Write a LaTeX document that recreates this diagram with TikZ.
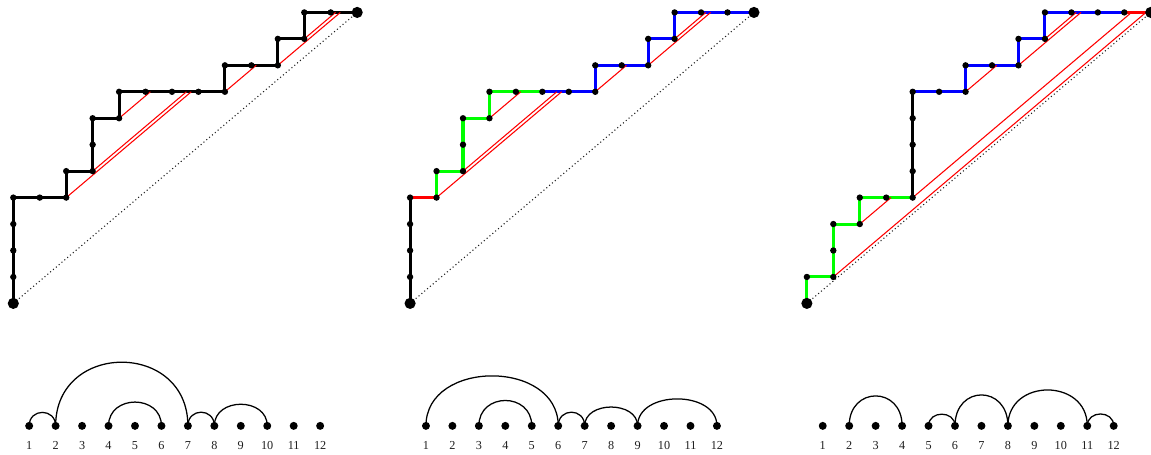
\documentclass[tikz,border=0pt]{standalone}
\usepackage{fontspec}
\setmainfont{Liberation Serif}
\usepackage{tikz}
\usetikzlibrary{
  positioning,
  calc
}
\definecolor{pathcolor}{RGB}{0, 0, 0}
\definecolor{steepcolor}{RGB}{0, 255, 0}
\definecolor{flatcolor}{RGB}{0, 0, 255}
\definecolor{bouncecolor}{RGB}{255, 0, 0}
\definecolor{diagcolor}{RGB}{30, 30, 30}
\definecolor{labelcolor}{RGB}{30, 30, 30}
\tikzset{
vertex/.style={
  circle,
  fill=pathcolor,
  inner sep=0pt,
  minimum size=4.8pt
},
endvertex/.style={
  vertex,
  minimum size=8.4pt
},
arcvertex/.style={
  vertex,
  minimum size=6pt
},
numlabel/.style={
  font=\fontsize{9.2}{10}\selectfont,
  text=labelcolor,
  inner sep=0pt
}
}

\begin{document}
\begin{tikzpicture}[
    x=0.7cm, y=0.7cm,
    % Estilos das linhas
    stepline/.style={line width=2.3pt, pathcolor, line join=round},
    steepline/.style={stepline, steepcolor},
    flatline/.style={stepline, flatcolor},
    firstline/.style={stepline, bouncecolor},
    redline/.style={line width=0.8pt, bouncecolor},
    diagline/.style={line width=0.8pt, diagcolor, dotted},
    arcline/.style={line width=0.95pt, pathcolor},
]
\useasboundingbox (-0.503,-5.73) rectangle (43.01,11.47);

% ============================================================================
% CAMINHO 1
% ============================================================================
\begin{scope}[shift={(0, 0)}]
    \foreach \x/\y [count=\i from 0] in {0/0,0/1,0/2,0/3,0/4,1/4,2/4,2/5,3/5,3/6,3/7,4/7,4/8,5/8,6/8,7/8,8/8,8/9,9/9,10/9,10/10,11/10,11/11,12/11,13/11}
        \coordinate (a\i) at (\x,\y);
    \coordinate (ar1) at ({2+4*13/11}, 8);
    \coordinate (ar2) at ({3+3*13/11}, 8);
    \coordinate (ar3) at ({4+13/11}, 8);
    \coordinate (ar4) at ({8+13/11}, 9);
    \coordinate (ar5) at ({10+2*13/11}, 11);
    \coordinate (ar6) at ({11+13/11}, 11);

    \draw[diagline] (a0) -- (a24);
    \draw[stepline] (a0) \foreach \i in {1,...,24} {-- (a\i)};
    \draw[redline] (a6) -- (ar1);
    \draw[redline] (a8) -- (ar2);
    \draw[redline] (a11) -- (ar3);
    \draw[redline] (a16) -- (ar4);
    \draw[redline] (a19) -- (ar5);
    \draw[redline] (a21) -- (ar6);

    \foreach \i in {1,...,23}
        \node[vertex] (va\i) at (a\i) {};
    \node[endvertex] (va0) at (a0) {};
    \node[endvertex] (va24) at (a24) {};

    \foreach \i in {1,...,12} {
        \node[arcvertex] (da\i) at ({\i-0.4}, -4.63) {};
        \node[numlabel] (la\i) at ({\i-0.4}, -5.37) {\i};
    }
    \draw[arcline] (da1.center) .. controls +(0,0.68) and +(0,0.68) .. (da2.center);
    \draw[arcline] (da2.center) .. controls +(0,3.21) and +(0,3.21) .. (da7.center);
    \draw[arcline] (da4.center) .. controls +(0,1.20) and +(0,1.20) .. (da6.center);
    \draw[arcline] (da7.center) .. controls +(0,0.69) and +(0,0.69) .. (da8.center);
    \draw[arcline] (da8.center) .. controls +(0,1.09) and +(0,1.09) .. (da10.center);
\end{scope}

% ============================================================================
% CAMINHO 2
% ============================================================================
\begin{scope}[shift={(15, 0)}]
    \foreach \x/\y [count=\i from 0] in {0/0,0/1,0/2,0/3,0/4,1/4,1/5,2/5,2/6,2/7,3/7,3/8,4/8,5/8,6/8,7/8,7/9,8/9,9/9,9/10,10/10,10/11,11/11,12/11,13/11}
        \coordinate (b\i) at (\x,\y);
    \coordinate (br1) at ({1+4*13/11}, 8);
    \coordinate (br2) at ({2+3*13/11}, 8);
    \coordinate (br3) at ({3+13/11}, 8);
    \coordinate (br4) at ({7+13/11}, 9);
    \coordinate (br5) at ({9+2*13/11}, 11);
    \coordinate (br6) at ({10+13/11}, 11);

    \draw[diagline] (b0) -- (b24);
    \draw[stepline] (b0) \foreach \i in {1,...,4} {-- (b\i)};
    \draw[firstline] (b4) -- (b5);
    \draw[steepline] (b5) \foreach \i in {6,...,13} {-- (b\i)};
    \draw[flatline] (b13) \foreach \i in {14,...,24} {-- (b\i)};
    \draw[redline] (b5) -- (br1);
    \draw[redline] (b7) -- (br2);
    \draw[redline] (b10) -- (br3);
    \draw[redline] (b15) -- (br4);
    \draw[redline] (b18) -- (br5);
    \draw[redline] (b20) -- (br6);

    \foreach \i in {1,...,23}
        \node[vertex] (vb\i) at (b\i) {};
    \node[endvertex] (vb0) at (b0) {};
    \node[endvertex] (vb24) at (b24) {};

    \foreach \i in {1,...,12} {
        \node[arcvertex] (db\i) at ({\i-0.4}, -4.63) {};
        \node[numlabel] (lb\i) at ({\i-0.4}, -5.37) {\i};
    }
    \draw[arcline] (db1.center) .. controls +(0,2.52) and +(0,2.52) .. (db6.center);
    \draw[arcline] (db3.center) .. controls +(0,1.28) and +(0,1.28) .. (db5.center);
    \draw[arcline] (db6.center) .. controls +(0,0.69) and +(0,0.69) .. (db7.center);
    \draw[arcline] (db7.center) .. controls +(0,0.95) and +(0,0.95) .. (db9.center);
    \draw[arcline] (db9.center) .. controls +(0,1.36) and +(0,1.36) .. (db12.center);
\end{scope}

% ============================================================================
% CAMINHO 3
% ============================================================================
\begin{scope}[shift={(30, 0)}]
    \foreach \x/\y [count=\i from 0] in {0/0,0/1,1/1,1/2,1/3,2/3,2/4,3/4,4/4,4/5,4/6,4/7,4/8,5/8,6/8,6/9,7/9,8/9,8/10,9/10,9/11,10/11,11/11,12/11,13/11}
        \coordinate (c\i) at (\x,\y);
    \coordinate (cr1) at ({1+10*13/11}, 11);
    \coordinate (cr2) at ({2+13/11}, 4);
    \coordinate (cr3) at ({4+7*13/11}, 11);
    \coordinate (cr4) at ({6+13/11}, 9);
    \coordinate (cr5) at ({8+2*13/11}, 11);
    \coordinate (cr6) at ({9+13/11}, 11);

    \draw[diagline] (c0) -- (c24);
    \draw[steepline] (c0) \foreach \i in {1,...,8} {-- (c\i)};
    \draw[stepline] (c8) \foreach \i in {9,...,12} {-- (c\i)};
    \draw[flatline] (c12) \foreach \i in {13,...,23} {-- (c\i)};
    \draw[firstline] (c23) -- (c24);
    \draw[redline] (c2) -- (cr1);
    \draw[redline] (c5) -- (cr2);
    \draw[redline] (c8) -- (cr3);
    \draw[redline] (c14) -- (cr4);
    \draw[redline] (c17) -- (cr5);
    \draw[redline] (c19) -- (cr6);

    \foreach \i in {1,...,23}
        \node[vertex] (vc\i) at (c\i) {};
    \node[endvertex] (vc0) at (c0) {};
    \node[endvertex] (vc24) at (c24) {};

    \foreach \i in {1,...,12} {
        \node[arcvertex] (dc\i) at ({\i-0.4}, -4.63) {};
        \node[numlabel] (lc\i) at ({\i-0.4}, -5.37) {\i};
    }
    \draw[arcline] (dc2.center) .. controls +(0,1.51) and +(0,1.51) .. (dc4.center);
    \draw[arcline] (dc5.center) .. controls +(0,0.59) and +(0,0.59) .. (dc6.center);
    \draw[arcline] (dc6.center) .. controls +(0,1.56) and +(0,1.56) .. (dc8.center);
    \draw[arcline] (dc8.center) .. controls +(0,1.81) and +(0,1.81) .. (dc11.center);
    \draw[arcline] (dc11.center) .. controls +(0,0.60) and +(0,0.60) .. (dc12.center);
\end{scope}

\end{tikzpicture}
\end{document}
